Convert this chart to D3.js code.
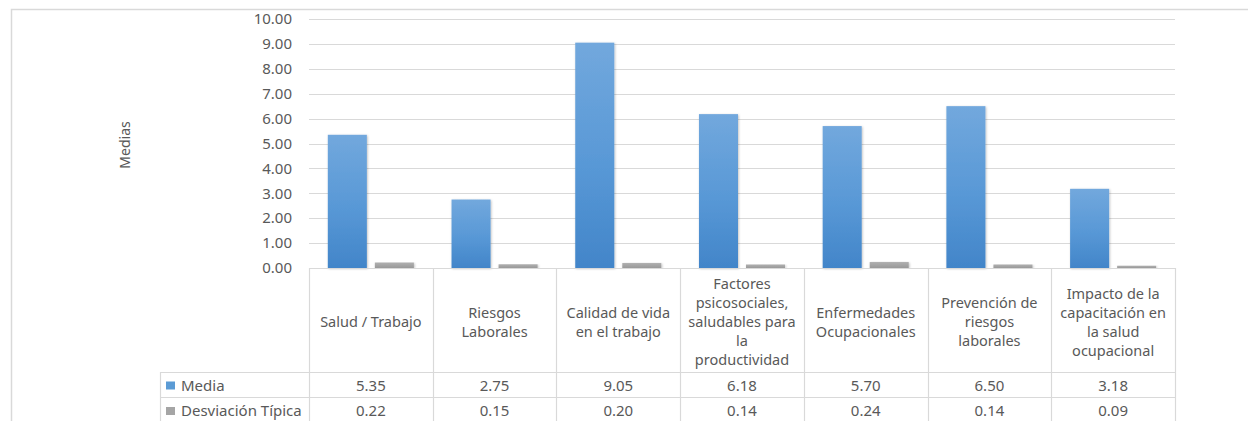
<!DOCTYPE html>
<html>
<head>
<meta charset="utf-8">
<script src="https://cdn.jsdelivr.net/npm/d3@7"></script>
<style>
  body { margin: 0; background: #fff; overflow: hidden; }
  svg { display: block; font-family: "Noto Sans", sans-serif; }
</style>
</head>
<body>
<div id="chart"></div>
<script>
// chart data
const categories = [
  "Salud / Trabajo",
  "Riesgos\nLaborales",
  "Calidad de vida\nen el trabajo",
  "Factores\npsicosociales,\nsaludables para\nla\nproductividad",
  "Enfermedades\nOcupacionales",
  "Prevención de\nriesgos\nlaborales",
  "Impacto de la\ncapacitación en\nla salud\nocupacional"
]
const seriesNames = ["Media", "Desviación Típica"]
const media = [5.35, 2.75, 9.05, 6.18, 5.70, 6.50, 3.18]
const desviacion = [0.22, 0.15, 0.20, 0.14, 0.24, 0.14, 0.09]
const yTicks = [0, 1, 2, 3, 4, 5, 6, 7, 8, 9, 10]

const W = 1248, H = 421
const plotLeft = 309, plotRight = 1175, plotTop = 19, base = 268
const tableLeft = 160, catRowBottom = 372, mediaRowBottom = 397, devRowBottom = 430
const textColor = "#595959", lineColor = "#d9d9d9"

const svg = d3.select("#chart").append("svg")
  .attr("width", W).attr("height", H)

const defs = svg.append("defs")
const gBlue = defs.append("linearGradient").attr("id", "gBlue")
  .attr("x1", 0).attr("y1", 0).attr("x2", 0).attr("y2", 1)
gBlue.append("stop").attr("offset", "0%").attr("stop-color", "#72a8dd")
gBlue.append("stop").attr("offset", "55%").attr("stop-color", "#5898d6")
gBlue.append("stop").attr("offset", "100%").attr("stop-color", "#4285c9")
const gGray = defs.append("linearGradient").attr("id", "gGray")
  .attr("x1", 0).attr("y1", 0).attr("x2", 0).attr("y2", 1)
gGray.append("stop").attr("offset", "0%").attr("stop-color", "#b0b0b0")
gGray.append("stop").attr("offset", "100%").attr("stop-color", "#999999")
const shadow = defs.append("filter").attr("id", "shadow")
  .attr("x", "-20%").attr("y", "-5%").attr("width", "140%").attr("height", "110%")
shadow.append("feDropShadow").attr("dx", 0.8).attr("dy", 0.8)
  .attr("stdDeviation", 1).attr("flood-color", "#000").attr("flood-opacity", 0.25)

// outer frame
svg.append("rect")
  .attr("x", 11.5).attr("y", 9.5).attr("width", W + 10).attr("height", H + 10)
  .attr("fill", "none").attr("stroke", lineColor).attr("stroke-width", 1.5)

const x = d3.scaleBand().domain(d3.range(categories.length)).range([plotLeft, plotRight])
const xs = d3.scaleBand().domain(seriesNames).range([0, x.bandwidth()])
  .paddingInner(0.17).paddingOuter(0.4)
const y = d3.scaleLinear().domain([0, 10]).range([base, plotTop])

// gridlines and tick labels
svg.append("g").selectAll("line").data(yTicks.slice(1)).join("line")
  .attr("x1", plotLeft).attr("x2", plotRight)
  .attr("y1", d => Math.round(y(d)) + 0.5).attr("y2", d => Math.round(y(d)) + 0.5)
  .attr("stroke", lineColor).attr("stroke-width", 1.2)

svg.append("g").selectAll("text").data(yTicks).join("text")
  .attr("x", 292).attr("y", d => y(d))
  .attr("dy", "0.35em").attr("text-anchor", "end")
  .attr("fill", textColor).style("font-size", "15px")
  .text(d => d3.format(".2f")(d))

svg.append("text")
  .attr("transform", "translate(130,145) rotate(-90)")
  .attr("text-anchor", "middle").attr("fill", textColor)
  .style("font-size", "14px").text("Medias")

// bars
const seriesData = [media, desviacion]
const fills = ["url(#gBlue)", "url(#gGray)"]
seriesData.forEach((vals, si) => {
  svg.append("g").selectAll("rect").data(vals).join("rect")
    .attr("x", (d, i) => x(i) + xs(seriesNames[si]))
    .attr("width", xs.bandwidth())
    .attr("y", d => y(d))
    .attr("height", d => base - y(d))
    .attr("fill", fills[si])
    .attr("filter", "url(#shadow)")
})

// data table
const tbl = svg.append("g").attr("stroke", lineColor).attr("stroke-width", 1.2)
tbl.append("line").attr("x1", plotLeft).attr("x2", plotRight).attr("y1", base + 0.5).attr("y2", base + 0.5)
;[catRowBottom, mediaRowBottom].forEach(yy => {
  tbl.append("line").attr("x1", tableLeft).attr("x2", plotRight).attr("y1", yy + 0.5).attr("y2", yy + 0.5)
})
tbl.selectAll("line.v").data(d3.range(categories.length + 1)).join("line")
  .attr("class", "v")
  .attr("x1", i => Math.round(plotLeft + i * x.step()) + 0.5)
  .attr("x2", i => Math.round(plotLeft + i * x.step()) + 0.5)
  .attr("y1", base).attr("y2", devRowBottom)
tbl.append("line").attr("x1", tableLeft + 0.5).attr("x2", tableLeft + 0.5)
  .attr("y1", catRowBottom).attr("y2", devRowBottom)

// category labels
const lh = 19
svg.append("g").selectAll("text").data(categories).join("text")
  .attr("text-anchor", "middle").attr("fill", textColor).style("font-size", "14.5px")
  .each(function (d, i) {
    const lines = d.split("\n")
    const cy = 322
    const y0 = cy - (lines.length - 1) * lh / 2
    d3.select(this).selectAll("tspan").data(lines).join("tspan")
      .attr("x", x(i) + x.bandwidth() / 2)
      .attr("y", (l, k) => y0 + k * lh)
      .attr("dy", "0.35em")
      .text(l => l)
  })

// value rows with legend keys
const keyColors = ["#5b9bd5", "#a5a5a5"]
seriesData.forEach((vals, si) => {
  const ry = si === 0 ? 385.5 : 411
  svg.append("rect").attr("x", 166).attr("y", ry - 4).attr("width", 9).attr("height", 8)
    .attr("fill", keyColors[si])
  svg.append("text").attr("x", 181).attr("y", ry).attr("dy", "0.35em")
    .attr("fill", textColor).style("font-size", "15px").text(seriesNames[si])
  svg.append("g").selectAll("text").data(vals).join("text")
    .attr("x", (d, i) => x(i) + x.bandwidth() / 2).attr("y", ry).attr("dy", "0.35em")
    .attr("text-anchor", "middle").attr("fill", textColor).style("font-size", "15px")
    .text(d => d3.format(".2f")(d))
})
</script>
</body>
</html>
